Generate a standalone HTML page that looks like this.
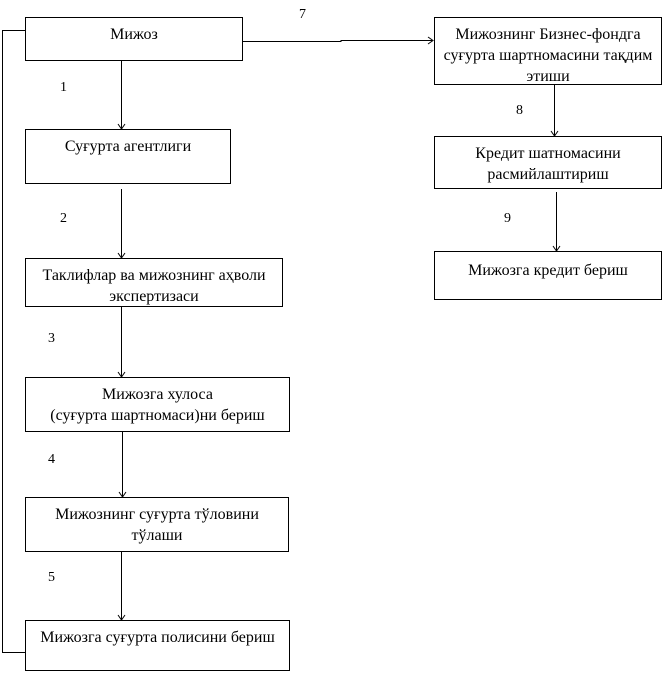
<!DOCTYPE html>
<html><head><meta charset="utf-8"><style>
body{margin:0;width:663px;height:673px;background:#fff;position:relative;font-family:"Liberation Serif","DejaVu Serif",serif;font-size:16px;color:#000}
.b{position:absolute;border:1px solid #000;box-sizing:border-box;text-align:center;line-height:21px;padding-top:6px;white-space:nowrap}
.l{position:absolute;font-size:14px}
svg{position:absolute;left:0;top:0}
</style></head><body>
<svg width="663" height="673"><g stroke="#000" stroke-width="1" fill="none">
<path d="M25.5 30.5H2.5V652.5H25.5"/>
<path d="M242 41.5H341V40.5H432"/><path d="M428 37L433 40.5L428 44"/>
<path d="M121.5 60V128M118 124L121.5 129L125 124"/>
<path d="M121.5 189V257M118 253L121.5 258L125 253"/>
<path d="M121.5 306V376M118 372L121.5 377L125 372"/>
<path d="M122.5 431V496M119 492L122.5 497L126 492"/>
<path d="M121.5 551V619M118 615L121.5 620L125 615"/>
<path d="M554.5 84V135M551 131L554.5 136L558 131"/>
<path d="M556.5 192V250M553 246L556.5 251L560 246"/>
</g></svg>
<div class="b" style="left:25px;top:17px;width:218px;height:44px">Мижоз</div>
<div class="b" style="left:25px;top:129px;width:206px;height:55px">Суғурта агентлиги</div>
<div class="b" style="left:25px;top:258px;width:258px;height:49px">Таклифлар ва мижознинг аҳволи<br>экспертизаси</div>
<div class="b" style="left:25px;top:377px;width:265px;height:55px">Мижозга хулоса<br>(суғурта шартномаси)ни бериш</div>
<div class="b" style="left:25px;top:497px;width:264px;height:55px">Мижознинг суғурта тўловини<br>тўлаши</div>
<div class="b" style="left:25px;top:620px;width:265px;height:51px">Мижозга суғурта полисини бериш</div>
<div class="b" style="left:434px;top:17px;width:228px;height:68px;overflow:visible">Мижознинг Бизнес-фондга<br>суғурта шартномасини тақдим<br>этиши</div>
<div class="b" style="left:434px;top:136px;width:228px;height:53px">Кредит шатномасини<br>расмийлаштириш</div>
<div class="b" style="left:434px;top:251px;width:228px;height:49px;padding-top:8px">Мижозга кредит бериш</div>
<div class="l" style="left:299px;top:7px">7</div>
<div class="l" style="left:60px;top:80px">1</div>
<div class="l" style="left:60px;top:211px">2</div>
<div class="l" style="left:48px;top:331px">3</div>
<div class="l" style="left:48px;top:452px">4</div>
<div class="l" style="left:48px;top:570px">5</div>
<div class="l" style="left:516px;top:103px">8</div>
<div class="l" style="left:504px;top:211px">9</div>
</body></html>
